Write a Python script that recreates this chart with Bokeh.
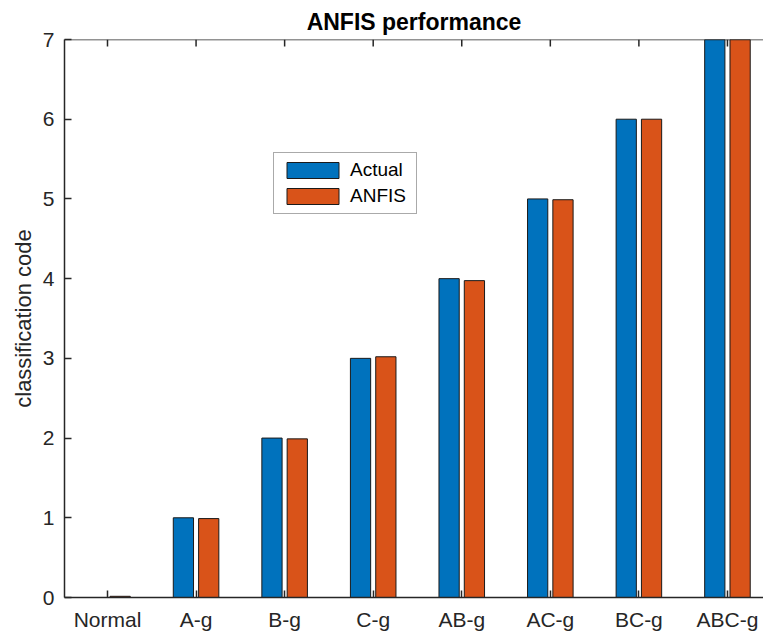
import math
from bokeh.plotting import figure
from bokeh.models import (Range1d, FixedTicker, LinearAxis, Legend, LegendItem,
                          ColumnDataSource, Title, Span)
from bokeh.transform import dodge
from bokeh.embed import file_html
from bokeh.resources import INLINE

categories = ["Normal", "A-g", "B-g", "C-g", "AB-g", "AC-g", "BC-g", "ABC-g"]
actual = [0, 1, 2, 3, 4, 5, 6, 7]
anfis = [0.015, 0.99, 1.99, 3.02, 3.975, 4.99, 6.0, 7.0]
y_ticks = [0, 1, 2, 3, 4, 5, 6, 7]

xpos = list(range(1, len(categories) + 1))
src = ColumnDataSource(dict(x=xpos, actual=actual, anfis=anfis))
top_src = ColumnDataSource(dict(x=xpos, y=[y_ticks[-1]] * len(xpos)))

AX = "#262626"
FONT = "Liberation Sans"

p = figure(width=763, height=634, output_backend="svg", toolbar_location=None,
           x_range=Range1d(0.5145, 8.407), y_range=Range1d(0, 7),
           min_border_left=64, min_border_right=0, min_border_top=39,
           min_border_bottom=37, x_axis_location=None, y_axis_location=None)
p.outline_line_color = None
p.grid.visible = False
p.background_fill_color = "white"

bw = 0.2286
r1 = p.vbar(x=dodge("x", -0.1429), top="actual", width=bw, source=src,
            fill_color="#0072BD", line_color="#1a1a1a", line_width=1)
r2 = p.vbar(x=dodge("x", 0.1429), top="anfis", width=bw, source=src,
            fill_color="#D95319", line_color="#1a1a1a", line_width=1)

# top box line with inward ticks
p.add_layout(Span(location=y_ticks[-1], dimension="width", line_color=AX, line_width=1.5))
p.ray(x="x", y="y", length=7, length_units="screen", angle=-math.pi / 2,
      source=top_src, line_color=AX, line_width=1.5)

def style_axis(ax):
    ax.axis_line_color = AX
    ax.axis_line_width = 1.5
    ax.major_tick_line_color = AX
    ax.major_tick_line_width = 1.5
    ax.major_tick_in = 7
    ax.major_tick_out = 0
    ax.minor_tick_line_color = None
    ax.major_label_text_color = AX
    ax.major_label_text_font = FONT
    ax.major_label_text_font_size = "21px"
    ax.axis_label_text_font = FONT
    ax.axis_label_text_color = AX

yax = LinearAxis(ticker=FixedTicker(ticks=y_ticks))
style_axis(yax)
yax.major_label_standoff = 10
yax.axis_label = "classification code"
yax.axis_label_text_font_size = "22px"
yax.axis_label_text_font_style = "normal"
yax.axis_label_standoff = 4
p.add_layout(yax, "left")

xax = LinearAxis(ticker=FixedTicker(ticks=xpos))
xax.major_label_overrides = {i: c for i, c in zip(xpos, categories)}
style_axis(xax)
xax.major_label_standoff = 10
p.add_layout(xax, "below")

p.title = Title(text="ANFIS performance", align="center", text_font=FONT,
                text_font_size="23px", text_font_style="bold", text_color="black",
                standoff=10, offset=0)

legend = Legend(items=[LegendItem(label="Actual", renderers=[r1]),
                       LegendItem(label="ANFIS", renderers=[r2])],
                location=(209, 383))
legend.glyph_width = 65
legend.glyph_height = 20
legend.label_height = 20
legend.label_standoff = 5
legend.spacing = 4
legend.padding = 6
legend.margin = 0
legend.label_width = 60
legend.label_text_font = FONT
legend.label_text_font_size = "19px"
legend.label_text_color = "black"
legend.border_line_color = "#555555"
legend.border_line_width = 1
legend.background_fill_color = "white"
legend.background_fill_alpha = 1
p.add_layout(legend, "center")

open("out.html", "w").write(file_html(p, INLINE))
